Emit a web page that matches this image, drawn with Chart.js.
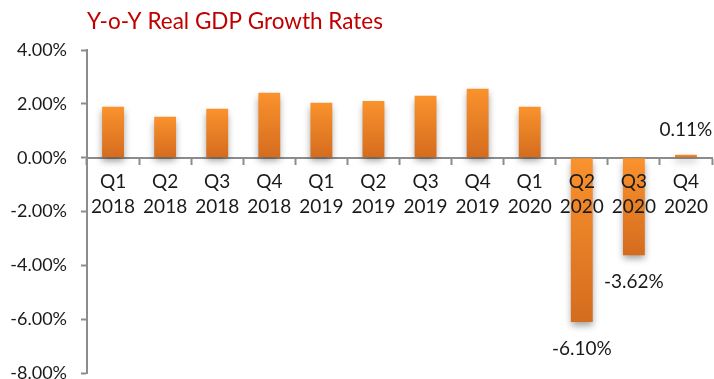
<!DOCTYPE html>
<html>
<head>
<meta charset="utf-8">
<style>
  html, body { margin: 0; padding: 0; background: #ffffff; }
  #wrap { width: 714px; height: 379px; position: relative; overflow: hidden; }
  #gdp { display: block; }
</style>
<script src="https://cdn.jsdelivr.net/npm/chart.js@4/dist/chart.umd.min.js"></script>
</head>
<body>
<div id="wrap"><canvas id="gdp" width="714" height="398"></canvas></div>
<script>
// Quarterly year-over-year real GDP growth, percent
const quarters = ['Q1', 'Q2', 'Q3', 'Q4', 'Q1', 'Q2', 'Q3', 'Q4', 'Q1', 'Q2', 'Q3', 'Q4'];
const years = ['2018', '2018', '2018', '2018', '2019', '2019', '2019', '2019', '2020', '2020', '2020', '2020'];
const growth = [1.89, 1.52, 1.82, 2.41, 2.04, 2.11, 2.30, 2.56, 1.89, -6.10, -3.62, 0.11];
// Bars whose value is printed next to them
const labelledBars = [9, 10, 11];
const yTicks = [-8, -6, -4, -2, 0, 2, 4];

const FONT = 'Lato, "Open Sans", "DejaVu Sans", sans-serif';
const TEXT = '#1a1a1a';
const AXIS = '#8c8c8c';

const categories = quarters.map((q, i) => [q, years[i]]);

function barFill(context) {
  const chart = context.chart;
  const area = chart.chartArea;
  if (!area || context.parsed === undefined) return '#ee8426';
  const y = chart.scales.y;
  const v = context.parsed.y;
  const a = y.getPixelForValue(v);
  const b = y.getPixelForValue(0);
  const top = Math.min(a, b), bottom = Math.max(a, b);
  const g = chart.ctx.createLinearGradient(0, top, 0, Math.max(bottom, top + 1));
  g.addColorStop(0, '#fa922d');
  g.addColorStop(1, '#d46c1f');
  return g;
}

// Soft drop shadow under the bars
const barShadow = {
  id: 'barShadow',
  beforeDatasetsDraw(chart) {
    const ctx = chart.ctx;
    ctx.save();
    ctx.shadowColor = 'rgba(0,0,0,0.38)';
    ctx.shadowBlur = 7;
    ctx.shadowOffsetX = 0;
    ctx.shadowOffsetY = 4;
  },
  afterDatasetsDraw(chart) {
    chart.ctx.restore();
  }
};

// Value labels beyond the end of selected bars
const valueLabels = {
  id: 'valueLabels',
  afterDraw(chart) {
    const ctx = chart.ctx;
    const meta = chart.getDatasetMeta(0);
    ctx.save();
    ctx.font = '19px ' + FONT;
    ctx.fillStyle = TEXT;
    ctx.textAlign = 'center';
    ctx.textBaseline = 'middle';
    labelledBars.forEach(i => {
      const bar = meta.data[i];
      const v = growth[i];
      const y = v >= 0 ? bar.y - 25 : bar.y + 27;
      ctx.fillText(v.toFixed(2) + '%', bar.x, y);
    });
    ctx.restore();
  }
};

new Chart(document.getElementById('gdp'), {
  type: 'bar',
  data: {
    labels: categories,
    datasets: [{
      data: growth,
      backgroundColor: barFill,
      borderWidth: 0,
      categoryPercentage: 1,
      barPercentage: 0.42
    }]
  },
  options: {
    responsive: false,
    animation: false,
    devicePixelRatio: 1,
    layout: { padding: { left: 0, right: 2, top: 0, bottom: 0 } },
    plugins: {
      legend: { display: false },
      tooltip: { enabled: false },
      title: {
        display: true,
        text: 'Y-o-Y Real GDP Growth Rates',
        align: 'start',
        fullSize: false,
        color: '#c00000',
        font: { family: FONT, size: 22.5, weight: 'normal' },
        padding: { top: 8, bottom: 15 }
      }
    },
    scales: {
      x: {
        position: { y: 0 },
        afterFit(scale) { scale.height = 0; },
        grid: {
          display: true,
          offset: true,
          drawOnChartArea: false,
          drawTicks: true,
          tickLength: 6,
          tickColor: AXIS,
          tickWidth: 2
        },
        border: { display: true, color: AXIS, width: 2 },
        ticks: {
          z: 1,
          color: TEXT,
          font: { family: FONT, size: 19, lineHeight: 1.35 },
          padding: 5,
          maxRotation: 0,
          autoSkip: false
        }
      },
      y: {
        min: -8,
        max: 4,
        afterBuildTicks(scale) {
          scale.ticks = yTicks.map(v => ({ value: v }));
        },
        afterFit(scale) { scale.width = 87; },
        grid: {
          display: true,
          drawOnChartArea: false,
          drawTicks: true,
          tickLength: 6,
          tickColor: AXIS,
          tickWidth: 2
        },
        border: { display: true, color: AXIS, width: 2 },
        ticks: {
          color: TEXT,
          font: { family: FONT, size: 18 },
          padding: 14,
          callback: v => v.toFixed(2) + '%'
        }
      }
    }
  },
  plugins: [barShadow, valueLabels]
});
</script>
</body>
</html>
